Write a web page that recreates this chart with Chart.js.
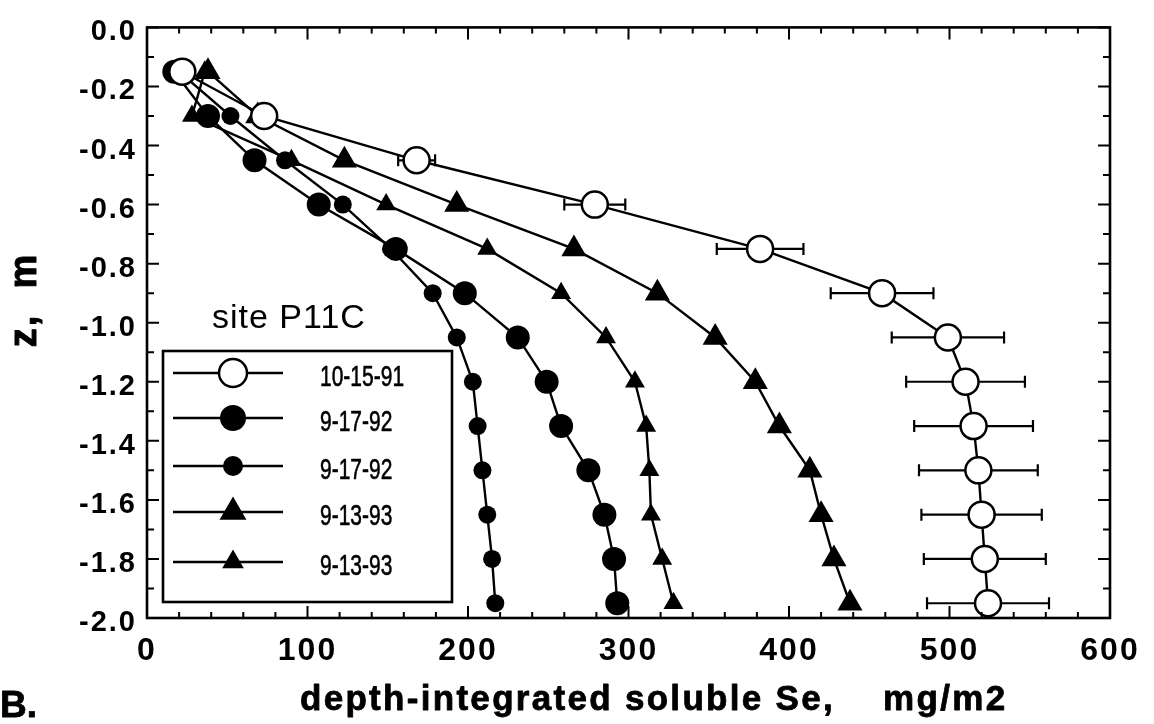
<!DOCTYPE html>
<html><head><meta charset="utf-8">
<script src="https://cdn.jsdelivr.net/npm/chart.js@4.4.1/dist/chart.umd.min.js"></script>
<style>html,body{margin:0;padding:0;background:#fff;}canvas{display:block;}</style>
</head><body>
<canvas id="c" width="1154" height="724"></canvas>
<script>
// depth of each sample (m)
const depths = [-0.15, -0.3, -0.45, -0.6, -0.75, -0.9, -1.05, -1.2, -1.35, -1.5, -1.65, -1.8, -1.95];
// depth-integrated soluble Se (mg/m2)
const se_101591 = [22, 73, 168, 279, 382, 458, 499, 510, 515, 518, 520, 522, 524];
const err_101591 = [0, 0, 11.5, 19, 27, 32, 35, 37, 37, 37, 37.5, 38, 38];
const se_91792a = [17, 38, 67, 107, 155, 198, 231, 249, 258, 275, 285, 291, 293];
const se_91792b = [20, 52, 86, 122, 152, 178, 193, 203, 206, 209, 212, 215, 217];
const se_91393a = [38, 69, 123, 193, 266, 318, 354, 379, 394, 413, 420, 428, 438];
const se_91393b = [36, 28, 90, 149, 212, 258, 286, 304, 311, 313, 314, 321, 328];
const seriesLabels = ["10-15-91", "9-17-92", "9-17-92", "9-13-93", "9-13-93"];
const xTickValues = [0, 100, 200, 300, 400, 500, 600];
const yTickValues = [0.0, -0.2, -0.4, -0.6, -0.8, -1.0, -1.2, -1.4, -1.6, -1.8, -2.0];
const xTitle = "depth-integrated soluble Se,    mg/m2";
const yTitle = "z,  m";
const siteLabel = "site P11C";
const panelLabel = "B.";

const toPts = vals => vals.map((v, i) => ({x: v, y: depths[i]}));

const styles = [
  {pointStyle: 'circle', pointRadius: 13, pointBackgroundColor: '#fff', pointBorderWidth: 2.5},
  {pointStyle: 'circle', pointRadius: 12, pointBackgroundColor: '#000', pointBorderWidth: 0},
  {pointStyle: 'circle', pointRadius: 9, pointBackgroundColor: '#000', pointBorderWidth: 0},
  {pointStyle: 'triangle', pointRadius: 14.5, pointBackgroundColor: '#000', pointBorderWidth: 0},
  {pointStyle: 'triangle', pointRadius: 11.5, pointBackgroundColor: '#000', pointBorderWidth: 0}
];
const seriesVals = [se_101591, se_91792a, se_91792b, se_91393a, se_91393b];

const datasets = seriesVals.map((vals, k) => Object.assign({
  label: seriesLabels[k],
  data: toPts(vals),
  borderColor: '#000',
  borderWidth: 2.4,
  pointBorderColor: '#000',
  pointHoverRadius: styles[k].pointRadius,
  tension: 0,
  fill: false,
  clip: false
}, styles[k]));

function marker(ctx, style, r, x, y, fill, bw) {
  ctx.beginPath();
  if (style === 'triangle') {
    ctx.moveTo(x, y - r);
    ctx.lineTo(x + 0.866 * r, y + 0.5 * r);
    ctx.lineTo(x - 0.866 * r, y + 0.5 * r);
    ctx.closePath();
  } else {
    ctx.arc(x, y, r, 0, Math.PI * 2);
  }
  ctx.fillStyle = fill;
  ctx.fill();
  if (bw > 0) { ctx.lineWidth = bw; ctx.strokeStyle = '#000'; ctx.stroke(); }
}

function heavyText(ctx, txt, x, y, w) {
  ctx.fillText(txt, x, y);
  ctx.lineWidth = w; ctx.strokeStyle = '#000'; ctx.lineJoin = 'round';
  ctx.strokeText(txt, x, y);
}

const decor = {
  id: 'decor',
  beforeDraw(chart) {
    const ctx = chart.ctx;
    ctx.save(); ctx.fillStyle = '#fff'; ctx.fillRect(0, 0, chart.width, chart.height); ctx.restore();
    ctx.letterSpacing = '2px';
  },
  beforeDatasetsDraw(chart) {
    const ctx = chart.ctx;
    ctx.letterSpacing = '0px';
    const xs = chart.scales.x, ys = chart.scales.y;
    ctx.save();
    ctx.strokeStyle = '#000'; ctx.lineWidth = 2.2;
    err_101591.forEach((e, i) => {
      if (!e) return;
      const y = ys.getPixelForValue(depths[i]);
      const x1 = xs.getPixelForValue(se_101591[i] - e), x2 = xs.getPixelForValue(se_101591[i] + e);
      ctx.beginPath();
      ctx.moveTo(x1, y); ctx.lineTo(x2, y);
      ctx.moveTo(x1, y - 6); ctx.lineTo(x1, y + 6);
      ctx.moveTo(x2, y - 6); ctx.lineTo(x2, y + 6);
      ctx.stroke();
    });
    ctx.restore();
  },
  afterDatasetsDraw(chart) {
    const ctx = chart.ctx;
    const a = chart.chartArea;
    const xs = chart.scales.x, ys = chart.scales.y;
    ctx.save();
    ctx.strokeStyle = '#000';
    // inward ticks
    ctx.lineWidth = 2;
    ctx.beginPath();
    for (let v = 0; v <= 600; v += 20) {
      const px = xs.getPixelForValue(v);
      const len = (v % 100 === 0) ? 12 : 6;
      ctx.moveTo(px, a.bottom); ctx.lineTo(px, a.bottom - len);
      ctx.moveTo(px, a.top); ctx.lineTo(px, a.top + len);
    }
    for (let k = 0; k <= 20; k++) {
      const v = -k / 10;
      const py = ys.getPixelForValue(v);
      const len = (k % 2 === 0) ? 12 : 7;
      ctx.moveTo(a.left, py); ctx.lineTo(a.left + len, py);
      ctx.moveTo(a.right, py); ctx.lineTo(a.right - len, py);
    }
    ctx.stroke();
    // frame
    ctx.lineWidth = 2.6;
    ctx.strokeRect(a.left, a.top, a.right - a.left, a.bottom - a.top);

    // site label
    ctx.fillStyle = '#000';
    ctx.letterSpacing = '1px';
    ctx.font = '34px "Liberation Sans", Arial, sans-serif';
    ctx.textAlign = 'left'; ctx.textBaseline = 'alphabetic';
    ctx.fillText(siteLabel, 212, 328);
    ctx.letterSpacing = '0px';

    // legend
    ctx.fillStyle = '#fff';
    ctx.fillRect(163, 351, 289, 251);
    ctx.lineWidth = 2.6; ctx.strokeStyle = '#000';
    ctx.strokeRect(163, 351, 289, 251);
    const rows = [373, 418, 466, 512, 562];
    chart.data.datasets.forEach((ds, k) => {
      const y = rows[k];
      ctx.lineWidth = 2.4; ctx.strokeStyle = '#000';
      ctx.beginPath(); ctx.moveTo(173, y); ctx.lineTo(283, y); ctx.stroke();
      marker(ctx, ds.pointStyle, ds.pointRadius + 1, 233, y, ds.pointBackgroundColor, ds.pointBorderWidth);
      ctx.save();
      ctx.fillStyle = '#000';
      ctx.font = '30px "Liberation Sans", Arial, sans-serif';
      ctx.textAlign = 'left'; ctx.textBaseline = 'alphabetic';
      ctx.translate(320, y + 13);
      ctx.scale(0.7, 1);
      heavyText(ctx, ds.label, 0, 0, 0.6);
      ctx.restore();
    });

    // axis titles
    ctx.fillStyle = '#000';
    ctx.letterSpacing = '2.3px';
    ctx.font = 'bold 35px "Liberation Sans", Arial, sans-serif';
    ctx.textAlign = 'left'; ctx.textBaseline = 'alphabetic';
    heavyText(ctx, xTitle, 300, 710, 0.8);
    ctx.letterSpacing = '0px';
    ctx.font = 'bold 37px "Liberation Sans", Arial, sans-serif';
    heavyText(ctx, panelLabel, 0, 717, 0.8);
    ctx.save();
    ctx.translate(36, 300);
    ctx.rotate(-Math.PI / 2);
    ctx.letterSpacing = '2px';
    ctx.font = 'bold 38px "Liberation Sans", Arial, sans-serif';
    ctx.textAlign = 'center';
    heavyText(ctx, yTitle, 0, 0, 1);
    ctx.restore();
    ctx.restore();
  }
};

new Chart(document.getElementById('c'), {
  type: 'line',
  data: {datasets},
  plugins: [decor],
  options: {
    responsive: false,
    devicePixelRatio: 1,
    animation: false,
    events: [],
    layout: {padding: {left: 0, top: 18, right: 44, bottom: 0}},
    plugins: {legend: {display: false}, tooltip: {enabled: false}, title: {display: false}},
    scales: {
      x: {
        type: 'linear', min: 0, max: 600,
        afterBuildTicks: s => { s.ticks = xTickValues.map(v => ({value: v})); },
        afterFit: s => { s.height = 106; },
        grid: {display: false, drawTicks: false},
        border: {display: false},
        ticks: {
          autoSkip: false, maxRotation: 0, padding: 14, color: '#000',
          font: {family: '"Liberation Sans", Arial, sans-serif', size: 32, weight: 'bold'},
          callback: v => String(v)
        }
      },
      y: {
        type: 'linear', min: -2, max: 0,
        afterBuildTicks: s => { s.ticks = yTickValues.map(v => ({value: v})); },
        afterFit: s => { s.width = 147; },
        grid: {display: false, drawTicks: false},
        border: {display: false},
        ticks: {
          autoSkip: false, padding: 10, labelOffset: 5, color: '#000',
          font: {family: '"Liberation Sans", Arial, sans-serif', size: 29, weight: 'bold'},
          callback: v => Number(v).toFixed(1)
        }
      }
    }
  }
});
</script>
</body></html>
